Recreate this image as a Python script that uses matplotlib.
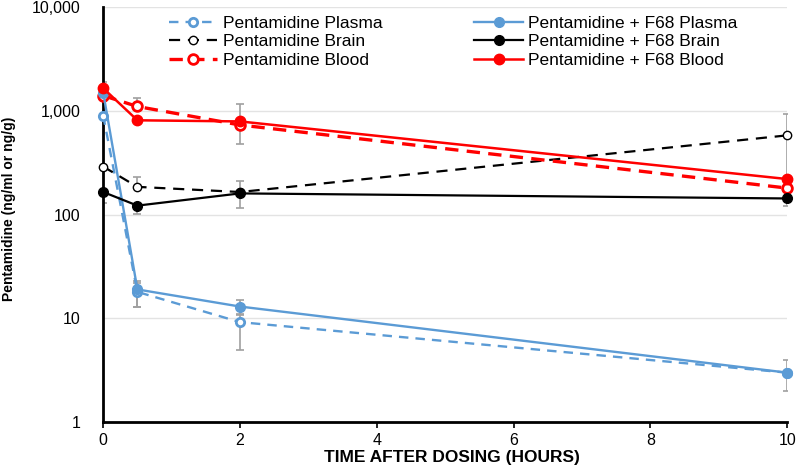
import matplotlib
matplotlib.use("Agg")
import matplotlib.pyplot as plt
from matplotlib.ticker import FixedLocator, FixedFormatter, NullLocator

plt.rcParams['font.family'] = ['Liberation Sans', 'DejaVu Sans']

t = [0, 0.5, 2, 10]

plasma = [900, 18, 9.2, 3.0]
plasma_err_lo = [0, 5, 4.2, 0]
plasma_err_hi = [0, 4, 1.5, 0]
plasma_f68 = [1500, 19, 13, 3.0]
plasma_f68_err_lo = [0, 6, 2, 1]
plasma_f68_err_hi = [0, 4, 2, 1]

brain = [290, 185, 165, 580]
brain_err_lo = [0, 0, 0, 460]
brain_err_hi = [0, 45, 45, 360]
brain_f68 = [165, 122, 160, 143]
brain_f68_err_lo = [35, 20, 45, 0]
brain_f68_err_hi = [0, 0, 0, 0]

blood = [1400, 1100, 730, 180]
blood_err_lo = [0, 0, 250, 0]
blood_err_hi = [0, 230, 420, 0]
blood_f68 = [1650, 810, 790, 220]
blood_f68_err_lo = [0, 0, 0, 0]
blood_f68_err_hi = [250, 0, 0, 0]

labels = ["Pentamidine Plasma", "Pentamidine + F68 Plasma",
          "Pentamidine Brain", "Pentamidine + F68 Brain",
          "Pentamidine Blood", "Pentamidine + F68 Blood"]

xticks = [0, 2, 4, 6, 8, 10]
yticks = [1, 10, 100, 1000, 10000]
yticklabels = ["1", "10", "100", "1,000", "10,000"]

BLUE = "#5b9bd5"
RED = "#ff0000"
BLACK = "#000000"
GREY = "#a0a0a0"

fig = plt.figure(figsize=(8, 4.67), dpi=100)
ax = fig.add_axes([0.129, 0.096, 0.855, 0.889])

ax.set_yscale('log')
ax.set_ylim(1, 10000)
ax.set_xlim(0, 10)

for y in yticks:
    ax.axhline(y, color="#e3e3e3", lw=1, zorder=0)

def err(vals, lo, hi):
    ax.errorbar(t, vals, yerr=[lo, hi], fmt='none', ecolor=GREY, elinewidth=1.2,
                capsize=3, capthick=1.2, zorder=2)

err(plasma, plasma_err_lo, plasma_err_hi)
err(plasma_f68, plasma_f68_err_lo, plasma_f68_err_hi)
err(brain, brain_err_lo, brain_err_hi)
err(brain_f68, brain_f68_err_lo, brain_f68_err_hi)
err(blood, blood_err_lo, blood_err_hi)
err(blood_f68, blood_f68_err_lo, blood_f68_err_hi)

h = {}
h[0], = ax.plot(t, plasma, ls=(0, (4, 3)), color=BLUE, lw=1.7, marker='o', ms=6,
                mfc='white', mec=BLUE, mew=2, zorder=3, clip_on=False)
h[2], = ax.plot(t, brain, ls=(0, (5, 3.5)), color=BLACK, lw=1.6, marker='o', ms=6,
                mfc='white', mec=BLACK, mew=1.0, zorder=3, clip_on=False)
h[4], = ax.plot(t, blood, ls=(0, (4, 2.5)), color=RED, lw=2.4, marker='o', ms=7,
                mfc='white', mec=RED, mew=2, zorder=3, clip_on=False)
h[1], = ax.plot(t, plasma_f68, ls='-', color=BLUE, lw=1.7, marker='o', ms=7,
                mfc=BLUE, mec=BLUE, zorder=4, clip_on=False)
h[3], = ax.plot(t, brain_f68, ls='-', color=BLACK, lw=1.6, marker='o', ms=7,
                mfc=BLACK, mec=BLACK, zorder=4, clip_on=False)
h[5], = ax.plot(t, blood_f68, ls='-', color=RED, lw=1.8, marker='o', ms=7.5,
                mfc=RED, mec=RED, zorder=4, clip_on=False)

handles = [h[0], h[2], h[4], h[1], h[3], h[5]]
leg_labels = [labels[0], labels[2], labels[4], labels[1], labels[3], labels[5]]
ax.legend(handles, leg_labels, ncol=2, loc='upper left', bbox_to_anchor=(0.073, 1.017),
          frameon=False, fontsize=12.5, handlelength=2.8, columnspacing=5.3,
          labelspacing=0.2, handletextpad=0.3)

ax.yaxis.set_major_locator(FixedLocator(yticks))
ax.yaxis.set_major_formatter(FixedFormatter(yticklabels))
ax.yaxis.set_minor_locator(NullLocator())
ax.set_xticks(xticks)
ax.tick_params(axis='y', length=0, labelsize=11.5, pad=16.5)
ax.tick_params(axis='x', length=4, width=1.2, labelsize=11.5, pad=4, direction='out')

for s in ['top', 'right']:
    ax.spines[s].set_visible(False)
ax.spines['left'].set_linewidth(2)
ax.spines['bottom'].set_linewidth(2)

ax.set_ylabel("Pentamidine (ng/ml or ng/g)", fontsize=10, fontweight='bold')
ax.yaxis.set_label_coords(-0.128, 0.515)
ax.set_xlabel("TIME AFTER DOSING (HOURS)", fontsize=12.5, fontweight='bold')
ax.xaxis.set_label_coords(0.51, -0.067)

fig.savefig("out.png", dpi=100)
